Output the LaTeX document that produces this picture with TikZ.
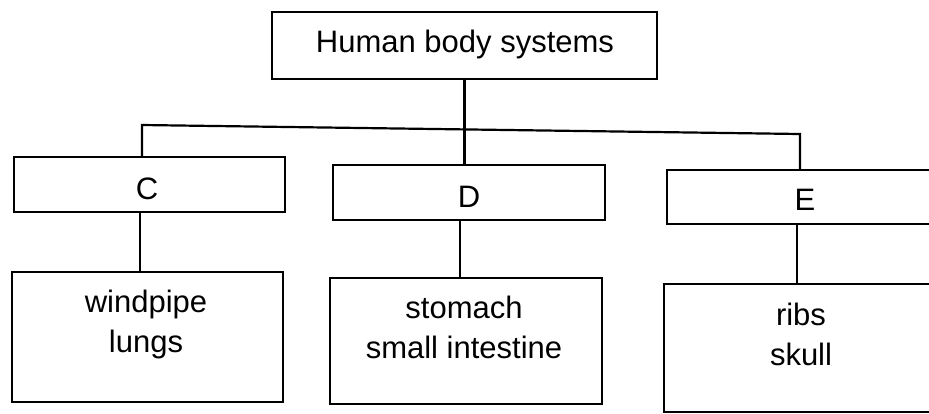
\documentclass[tikz,border=0pt]{standalone}
\usepackage{fontspec}
\setmainfont{Liberation Sans}
\usetikzlibrary{calc}
\begin{document}
\begin{tikzpicture}[x=1pt,y=-1pt,
  box/.style={draw=black, line width=2.2pt, rectangle, inner sep=0pt},
  conn/.style={draw=black, line width=2.2pt},
  txt/.style={font=\fontsize{31}{40}\selectfont, align=center, inner sep=0pt, text=black}]
\useasboundingbox (0,0) rectangle (929,413);
\clip (0,0) rectangle (929,413);
% top
\node[box, minimum width=385pt, minimum height=67pt] (top) at (464.5,45.5) {};
\node[txt, anchor=base] (toptxt) at (465,52) {Human body systems};
% middle row
\node[box, minimum width=271pt, minimum height=55pt] (C) at (149.5,184.5) {};
\node[txt, anchor=base] (Ct) at (147,199) {C};
\node[box, minimum width=272pt, minimum height=55pt] (D) at (469,192.5) {};
\node[txt, anchor=base] (Dt) at (469,207) {D};
\node[box, minimum width=272pt, minimum height=54pt] (E) at (803,197) {};
\node[txt, anchor=base] (Et) at (805,210) {E};
% bottom row
\node[box, minimum width=271pt, minimum height=130pt] (B1) at (147.5,337) {};
\node[txt, anchor=base] (B1t) at (146,352) {windpipe\\lungs};
\node[box, minimum width=272pt, minimum height=126pt] (B2) at (466,341) {};
\node[txt, anchor=base] (B2t) at (464,358) {stomach\\small intestine};
\node[box, minimum width=272pt, minimum height=128pt] (B3) at (800,348) {};
\node[txt, anchor=base] (B3t) at (801,365) {ribs\\skull};
% connectors
\coordinate (hl) at (142,125);
\coordinate (hr) at (800,134);
\coordinate (x1) at (140,0);
\coordinate (x2) at (460,0);
\coordinate (x3) at (797,0);
\draw[conn] (C.north -| hl) -- (hl) -- (hr) -- (E.north -| hr);
\draw[conn] (top.south) -- (top.south |- D.north);
\draw[conn] (C.south -| x1) -- (B1.north -| x1);
\draw[conn] (D.south -| x2) -- (B2.north -| x2);
\draw[conn] (E.south -| x3) -- (B3.north -| x3);
\end{tikzpicture}
\end{document}
